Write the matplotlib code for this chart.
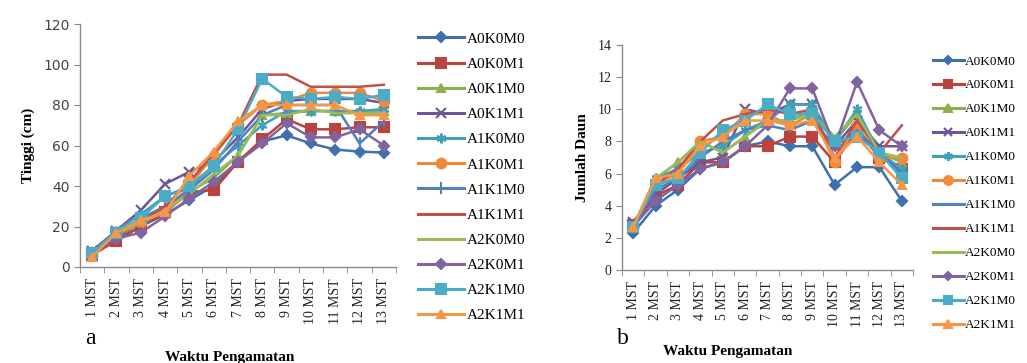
import matplotlib
matplotlib.use("Agg")
import matplotlib.pyplot as plt
from matplotlib.lines import Line2D

weeks = ["1 MST", "2 MST", "3 MST", "4 MST", "5 MST", "6 MST", "7 MST",
         "8 MST", "9 MST", "10 MST", "11 MST", "12 MST", "13 MST"]
series_names = ["A0K0M0", "A0K0M1", "A0K1M0", "A0K1M1", "A1K0M0", "A1K0M1",
                "A1K1M0", "A1K1M1", "A2K0M0", "A2K0M1", "A2K1M0", "A2K1M1"]

# Panel a: Tinggi (cm)
height_A0K0M0 = [7, 14, 20, 26, 33, 40, 52, 62, 65, 61, 58, 57, 56.5]
height_A0K0M1 = [6, 13, 20, 27, 37, 38, 52, 63, 73, 68, 68, 69, 69]
height_A0K1M0 = [7, 16, 22, 28, 37, 44, 55, 75, 76, 77, 77, 77, 77]
height_A0K1M1 = [8, 18, 28, 41, 47, 52, 64, 78, 82, 83, 83, 83, 81]
height_A1K0M0 = [7, 18, 26, 35, 39, 50, 60, 70, 77, 77, 77, 77, 78]
height_A1K0M1 = [6, 16, 22, 27, 40, 55, 70, 80, 82, 86, 86, 86, 82]
height_A1K1M0 = [7, 16, 24, 30, 38, 48, 62, 75, 80, 80, 80, 61, 72]
height_A1K1M1 = [7, 15, 22, 30, 42, 56, 70, 95, 95, 89, 89, 89, 90]
height_A2K0M0 = [7, 16, 22, 28, 36, 46, 55, 75, 75, 78, 76, 76, 76]
height_A2K0M1 = [7, 14, 17, 25, 34, 42, 52, 61, 71, 64, 64, 68, 60]
height_A2K1M0 = [7, 17, 24, 35, 40, 50, 68, 93, 84, 83, 84, 83, 85]
height_A2K1M1 = [5, 17, 23, 27, 45, 57, 72, 80, 80, 80, 80, 75, 75]

# Panel b: Jumlah Daun
leaf_A0K0M0 = [2.3, 4.0, 5.0, 6.3, 6.7, 7.7, 8.0, 7.7, 7.7, 5.3, 6.4, 6.4, 4.3]
leaf_A0K0M1 = [2.8, 4.6, 5.3, 6.7, 6.7, 7.7, 7.7, 8.3, 8.3, 6.7, 8.7, 7.0, 6.3]
leaf_A0K1M0 = [2.7, 5.7, 6.7, 8.0, 7.3, 8.3, 9.3, 9.3, 10.0, 8.0, 9.7, 7.3, 6.7]
leaf_A0K1M1 = [3.0, 4.7, 5.7, 6.7, 7.0, 10.0, 9.7, 10.3, 10.3, 7.7, 9.3, 7.7, 7.7]
leaf_A1K0M0 = [2.7, 5.7, 6.3, 7.3, 7.7, 8.7, 9.3, 10.3, 10.3, 8.0, 10.0, 7.3, 6.3]
leaf_A1K0M1 = [2.7, 5.3, 6.0, 8.0, 8.3, 9.7, 9.7, 9.0, 9.7, 6.7, 9.0, 7.0, 7.0]
leaf_A1K1M0 = [2.7, 5.0, 5.7, 7.0, 8.0, 8.7, 9.0, 8.7, 9.3, 7.7, 8.7, 7.3, 6.0]
leaf_A1K1M1 = [2.7, 5.3, 6.3, 8.0, 9.3, 9.7, 10.0, 9.7, 10.0, 7.0, 9.3, 7.3, 9.0]
leaf_A2K0M0 = [2.7, 5.7, 6.7, 8.0, 7.3, 8.3, 9.3, 9.3, 9.7, 8.3, 9.7, 7.3, 7.0]
leaf_A2K0M1 = [2.7, 4.3, 5.3, 6.3, 6.7, 7.7, 9.0, 11.3, 11.3, 7.7, 11.7, 8.7, 7.7]
leaf_A2K1M0 = [2.7, 5.3, 5.7, 7.3, 8.7, 9.3, 10.3, 9.7, 9.7, 8.0, 8.3, 7.3, 5.7]
leaf_A2K1M1 = [2.7, 5.7, 6.0, 7.7, 8.3, 9.3, 9.3, 9.0, 9.3, 7.0, 8.3, 6.7, 5.3]

heights = [height_A0K0M0, height_A0K0M1, height_A0K1M0, height_A0K1M1,
           height_A1K0M0, height_A1K0M1, height_A1K1M0, height_A1K1M1,
           height_A2K0M0, height_A2K0M1, height_A2K1M0, height_A2K1M1]
leaves = [leaf_A0K0M0, leaf_A0K0M1, leaf_A0K1M0, leaf_A0K1M1,
          leaf_A1K0M0, leaf_A1K0M1, leaf_A1K1M0, leaf_A1K1M1,
          leaf_A2K0M0, leaf_A2K0M1, leaf_A2K1M0, leaf_A2K1M1]

colors = ["#3F6FAE", "#B8433F", "#8EAF4E", "#6E5595", "#3FA0BA", "#EE8A3C",
          "#4F81BD", "#C0504D", "#9BBB59", "#8064A2", "#4BACC6", "#F79646"]
ast = (6, 2, 0)
markers_a = ["D", "s", "^", "x", ast, "o", "|", None, None, "D", "s", "^"]
markers_b = ["D", "s", "^", "x", ast, "o", None, None, None, "D", "s", "^"]
msizes = [5, 7, 6, 7, 7, 7, 8, 0, 0, 5, 7, 6]

serif = "Liberation Serif"

fig = plt.figure(figsize=(10.27, 3.63), dpi=100)
W, H = 1027, 363

def ax_rect(x0, y0, x1, y1):
    return [x0 / W, 1 - y1 / H, (x1 - x0) / W, (y1 - y0) / H]

ax1 = fig.add_axes(ax_rect(80, 24, 396, 267))
ax2 = fig.add_axes(ax_rect(622, 45, 913, 270))

x = list(range(len(weeks)))

def style_axis(ax, ymax, ystep, tickfont):
    ax.set_xlim(-0.5, len(weeks) - 0.5)
    ax.set_ylim(0, ymax)
    ax.set_yticks(list(range(0, ymax + 1, ystep)))
    for s in ["top", "right"]:
        ax.spines[s].set_visible(False)
    for s in ["left", "bottom"]:
        ax.spines[s].set_color("#8a8a8a")
        ax.spines[s].set_linewidth(1.0)
    ax.set_xticks(x)
    ax.set_xticklabels(weeks, rotation=90, fontsize=10, family=serif, color="#222222")
    ax.set_xticks([i - 0.5 for i in range(len(weeks) + 1)], minor=True)
    ax.tick_params(axis="x", which="major", length=0, pad=8)
    ax.tick_params(axis="x", which="minor", length=4, color="#8a8a8a", direction="out")
    ax.tick_params(axis="y", length=4, color="#8a8a8a", direction="out", labelsize=10)
    for lab in ax.get_yticklabels():
        lab.set_family(tickfont)
        lab.set_color("#222222")
    ax.set_facecolor("white")

for i, name in enumerate(series_names):
    ax1.plot(x, heights[i], color=colors[i], lw=1.8, marker=markers_a[i],
             ms=msizes[i], mew=1.5, label=name)
    ax2.plot(x, leaves[i], color=colors[i], lw=1.8, marker=markers_b[i],
             ms=msizes[i], mew=1.5, label=name)

style_axis(ax1, 120, 20, "DejaVu Sans")
style_axis(ax2, 14, 2, serif)
for lab in ax1.get_yticklabels():
    lab.set_color("#444444")
ax1.set_ylabel("Tinggi (cm)", family=serif, fontweight="bold", fontsize=11, labelpad=6)
ax2.set_ylabel("Jumlah Daun", family=serif, fontweight="bold", fontsize=11, labelpad=6)

fig.text(85 / W, 1 - 338 / H, "a", family=serif, fontsize=17, va="center", ha="left")
fig.text(617 / W, 1 - 338 / H, "b", family=serif, fontsize=17, va="center", ha="left")
fig.text(230 / W, 1 - 358 / H, "Waktu Pengamatan", family=serif, fontsize=11,
         fontweight="bold", ha="center", va="center")
fig.text(728 / W, 1 - 352 / H, "Waktu Pengamatan", family=serif, fontsize=11,
         fontweight="bold", ha="center", va="center")

def make_handles(markers, scale=1.0):
    hs = []
    for i, name in enumerate(series_names):
        hs.append(Line2D([0], [0], color=colors[i], lw=2.2, marker=markers[i],
                         ms=msizes[i] * scale, mew=1.5, label=name))
    return hs

leg1 = fig.legend(handles=make_handles(markers_a), loc="upper left",
                  bbox_to_anchor=(412 / W, 1 - 26 / H), frameon=False,
                  prop={"family": serif, "size": 11}, handlelength=3.0,
                  handletextpad=0.2, labelspacing=0.75, borderaxespad=0)
leg2 = fig.legend(handles=make_handles(markers_b, 0.9), loc="upper left",
                  bbox_to_anchor=(928 / W, 1 - 50 / H), frameon=False,
                  prop={"family": serif, "size": 9.5}, handlelength=2.3,
                  handletextpad=0.1, labelspacing=0.89, borderaxespad=0)

fig.savefig("out.png", dpi=100, facecolor="white")
